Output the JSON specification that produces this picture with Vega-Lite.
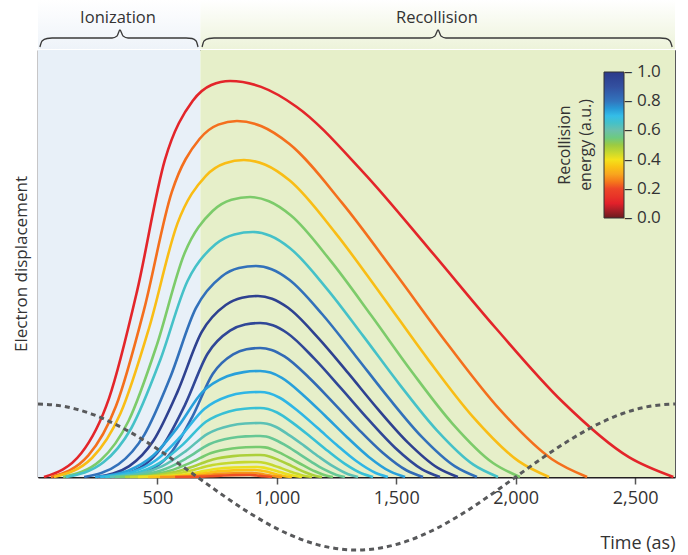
{
  "$schema": "https://vega.github.io/schema/vega-lite/v6.json",
  "width": 637,
  "height": 427,
  "autosize": {"type": "none"},
  "padding": {"left": 38, "top": 50, "right": 13, "bottom": 78},
  "background": "white",
  "config": {
    "font": "Open Sans",
    "view": {"stroke": "#58595b", "strokeWidth": 1},
    "axisX": {"titleAnchor": "end", "titleFontSize": 18, "titleFontWeight": "normal", "titleColor": "#333", "titlePadding": 27, "labelFontSize": 18, "labelColor": "#333", "labelPadding": 5, "tickSize": 7, "tickColor": "#555", "tickWidth": 1.5, "domainColor": "#231f20", "domainWidth": 2, "grid": false, "zindex": 1},
    "axisY": {"labels": false, "ticks": false, "grid": false, "domainColor": "#231f20", "domainWidth": 1.5, "titleFontSize": 17, "titleFontWeight": "normal", "titleColor": "#333", "titlePadding": 8, "zindex": 1}
  },
  "datasets": {
    "regions": [
      {"phase": "Ionization", "start": 0, "end": 680, "mid": 335},
      {"phase": "Recollision", "start": 680, "end": 2667, "mid": 1670}
    ],
    "energies": [
      {"curve": 1, "energy": 0.11}, {"curve": 2, "energy": 0.24}, {"curve": 3, "energy": 0.34},
      {"curve": 4, "energy": 0.53}, {"curve": 5, "energy": 0.65}, {"curve": 6, "energy": 0.81},
      {"curve": 7, "energy": 0.97}, {"curve": 8, "energy": 0.94}, {"curve": 9, "energy": 0.83},
      {"curve": 10, "energy": 0.74}, {"curve": 11, "energy": 0.71}, {"curve": 12, "energy": 0.67},
      {"curve": 13, "energy": 0.62}, {"curve": 14, "energy": 0.57}, {"curve": 15, "energy": 0.535},
      {"curve": 16, "energy": 0.48}, {"curve": 17, "energy": 0.45}, {"curve": 18, "energy": 0.41},
      {"curve": 19, "energy": 0.35}, {"curve": 20, "energy": 0.28}, {"curve": 21, "energy": 0.21}
    ],
    "curves": [
      {"curve":1,"t":25,"y":0},{"curve":1,"t":181,"y":23.8},{"curve":1,"t":298,"y":79.2},{"curve":1,"t":415,"y":186.1},{"curve":1,"t":531,"y":316.8},{"curve":1,"t":648,"y":376.2},{"curve":1,"t":726,"y":392},{"curve":1,"t":804,"y":396},{"curve":1,"t":934,"y":390.1},{"curve":1,"t":1082,"y":370.3},{"curve":1,"t":1361,"y":304.9},{"curve":1,"t":1639,"y":227.7},{"curve":1,"t":1918,"y":148.5},{"curve":1,"t":2196,"y":75.2},{"curve":1,"t":2474,"y":19.8},{"curve":1,"t":2660,"y":0},
      {"curve":2,"t":54,"y":0},{"curve":2,"t":210,"y":21.4},{"curve":2,"t":327,"y":71.2},{"curve":2,"t":444,"y":167.3},{"curve":2,"t":560,"y":284.8},{"curve":2,"t":677,"y":338.2},{"curve":2,"t":755,"y":352.4},{"curve":2,"t":833,"y":356},{"curve":2,"t":936,"y":350.7},{"curve":2,"t":1053,"y":332.9},{"curve":2,"t":1273,"y":274.1},{"curve":2,"t":1493,"y":204.7},{"curve":2,"t":1713,"y":133.5},{"curve":2,"t":1933,"y":67.6},{"curve":2,"t":2152,"y":17.8},{"curve":2,"t":2299,"y":0},
      {"curve":3,"t":67,"y":0},{"curve":3,"t":226,"y":19},{"curve":3,"t":345,"y":63.4},{"curve":3,"t":465,"y":149},{"curve":3,"t":584,"y":253.6},{"curve":3,"t":703,"y":301.2},{"curve":3,"t":783,"y":313.8},{"curve":3,"t":862,"y":317},{"curve":3,"t":952,"y":312.2},{"curve":3,"t":1054,"y":296.4},{"curve":3,"t":1245,"y":244.1},{"curve":3,"t":1437,"y":182.3},{"curve":3,"t":1629,"y":118.9},{"curve":3,"t":1821,"y":60.2},{"curve":3,"t":2012,"y":15.9},{"curve":3,"t":2140,"y":0},
      {"curve":4,"t":105,"y":0},{"curve":4,"t":262,"y":16.8},{"curve":4,"t":379,"y":56},{"curve":4,"t":497,"y":131.6},{"curve":4,"t":614,"y":224},{"curve":4,"t":731,"y":266},{"curve":4,"t":810,"y":277.2},{"curve":4,"t":888,"y":280},{"curve":4,"t":967,"y":275.8},{"curve":4,"t":1058,"y":261.8},{"curve":4,"t":1227,"y":215.6},{"curve":4,"t":1397,"y":161},{"curve":4,"t":1566,"y":105},{"curve":4,"t":1736,"y":53.2},{"curve":4,"t":1905,"y":14},{"curve":4,"t":2018,"y":0},
      {"curve":5,"t":117,"y":0},{"curve":5,"t":274,"y":14.7},{"curve":5,"t":391,"y":49},{"curve":5,"t":509,"y":115.2},{"curve":5,"t":626,"y":196},{"curve":5,"t":743,"y":232.8},{"curve":5,"t":822,"y":242.6},{"curve":5,"t":900,"y":245},{"curve":5,"t":972,"y":241.3},{"curve":5,"t":1054,"y":229.1},{"curve":5,"t":1208,"y":188.7},{"curve":5,"t":1362,"y":140.9},{"curve":5,"t":1516,"y":91.9},{"curve":5,"t":1670,"y":46.6},{"curve":5,"t":1823,"y":12.3},{"curve":5,"t":1926,"y":0},
      {"curve":6,"t":193,"y":0},{"curve":6,"t":337,"y":12.7},{"curve":6,"t":445,"y":42.2},{"curve":6,"t":553,"y":99.2},{"curve":6,"t":661,"y":168.8},{"curve":6,"t":769,"y":200.5},{"curve":6,"t":841,"y":208.9},{"curve":6,"t":913,"y":211},{"curve":6,"t":978,"y":207.8},{"curve":6,"t":1052,"y":197.3},{"curve":6,"t":1191,"y":162.5},{"curve":6,"t":1329,"y":121.3},{"curve":6,"t":1468,"y":79.1},{"curve":6,"t":1607,"y":40.1},{"curve":6,"t":1746,"y":10.6},{"curve":6,"t":1838,"y":0},
      {"curve":7,"t":247,"y":0},{"curve":7,"t":382,"y":10.9},{"curve":7,"t":483,"y":36.2},{"curve":7,"t":584,"y":85.1},{"curve":7,"t":685,"y":144.8},{"curve":7,"t":786,"y":172},{"curve":7,"t":854,"y":179.2},{"curve":7,"t":921,"y":181},{"curve":7,"t":980,"y":178.3},{"curve":7,"t":1047,"y":169.2},{"curve":7,"t":1172,"y":139.4},{"curve":7,"t":1298,"y":104.1},{"curve":7,"t":1423,"y":67.9},{"curve":7,"t":1549,"y":34.4},{"curve":7,"t":1674,"y":9.1},{"curve":7,"t":1758,"y":0},
      {"curve":8,"t":301,"y":0},{"curve":8,"t":427,"y":9.2},{"curve":8,"t":521,"y":30.8},{"curve":8,"t":616,"y":72.4},{"curve":8,"t":710,"y":123.2},{"curve":8,"t":804,"y":146.3},{"curve":8,"t":867,"y":152.5},{"curve":8,"t":930,"y":154},{"curve":8,"t":983,"y":151.7},{"curve":8,"t":1043,"y":144},{"curve":8,"t":1156,"y":118.6},{"curve":8,"t":1269,"y":88.6},{"curve":8,"t":1382,"y":57.8},{"curve":8,"t":1495,"y":29.3},{"curve":8,"t":1608,"y":7.7},{"curve":8,"t":1683,"y":0},
      {"curve":9,"t":364,"y":0},{"curve":9,"t":477,"y":7.7},{"curve":9,"t":562,"y":25.8},{"curve":9,"t":647,"y":60.6},{"curve":9,"t":732,"y":103.2},{"curve":9,"t":817,"y":122.6},{"curve":9,"t":873,"y":127.7},{"curve":9,"t":930,"y":129},{"curve":9,"t":978,"y":127.1},{"curve":9,"t":1032,"y":120.6},{"curve":9,"t":1135,"y":99.3},{"curve":9,"t":1237,"y":74.2},{"curve":9,"t":1339,"y":48.4},{"curve":9,"t":1442,"y":24.5},{"curve":9,"t":1544,"y":6.5},{"curve":9,"t":1612,"y":0},
      {"curve":10,"t":239,"y":0},{"curve":10,"t":377,"y":6.4},{"curve":10,"t":481,"y":21.2},{"curve":10,"t":585,"y":49.8},{"curve":10,"t":688,"y":84.8},{"curve":10,"t":792,"y":100.7},{"curve":10,"t":861,"y":104.9},{"curve":10,"t":930,"y":106},{"curve":10,"t":973,"y":104.4},{"curve":10,"t":1021,"y":99.1},{"curve":10,"t":1112,"y":81.6},{"curve":10,"t":1203,"y":61},{"curve":10,"t":1294,"y":39.8},{"curve":10,"t":1385,"y":20.1},{"curve":10,"t":1476,"y":5.3},{"curve":10,"t":1537,"y":0},
      {"curve":11,"t":260,"y":0},{"curve":11,"t":394,"y":5.1},{"curve":11,"t":495,"y":17},{"curve":11,"t":595,"y":40},{"curve":11,"t":696,"y":68},{"curve":11,"t":796,"y":80.8},{"curve":11,"t":863,"y":84.2},{"curve":11,"t":930,"y":85},{"curve":11,"t":968,"y":83.7},{"curve":11,"t":1010,"y":79.5},{"curve":11,"t":1091,"y":65.5},{"curve":11,"t":1171,"y":48.9},{"curve":11,"t":1251,"y":31.9},{"curve":11,"t":1331,"y":16.2},{"curve":11,"t":1412,"y":4.3},{"curve":11,"t":1465,"y":0},
      {"curve":12,"t":281,"y":0},{"curve":12,"t":411,"y":4.1},{"curve":12,"t":508,"y":13.8},{"curve":12,"t":606,"y":32.4},{"curve":12,"t":703,"y":55.2},{"curve":12,"t":800,"y":65.6},{"curve":12,"t":865,"y":68.3},{"curve":12,"t":930,"y":69},{"curve":12,"t":963,"y":68},{"curve":12,"t":1001,"y":64.5},{"curve":12,"t":1072,"y":53.1},{"curve":12,"t":1143,"y":39.7},{"curve":12,"t":1214,"y":25.9},{"curve":12,"t":1285,"y":13.1},{"curve":12,"t":1356,"y":3.5},{"curve":12,"t":1403,"y":0},
      {"curve":13,"t":301,"y":0},{"curve":13,"t":427,"y":3.2},{"curve":13,"t":521,"y":10.8},{"curve":13,"t":616,"y":25.4},{"curve":13,"t":710,"y":43.2},{"curve":13,"t":804,"y":51.3},{"curve":13,"t":867,"y":53.5},{"curve":13,"t":930,"y":54},{"curve":13,"t":959,"y":53.2},{"curve":13,"t":992,"y":50.5},{"curve":13,"t":1053,"y":41.6},{"curve":13,"t":1115,"y":31.1},{"curve":13,"t":1176,"y":20.3},{"curve":13,"t":1238,"y":10.3},{"curve":13,"t":1299,"y":2.7},{"curve":13,"t":1340,"y":0},
      {"curve":14,"t":322,"y":0},{"curve":14,"t":444,"y":2.5},{"curve":14,"t":535,"y":8.2},{"curve":14,"t":626,"y":19.3},{"curve":14,"t":717,"y":32.8},{"curve":14,"t":808,"y":39},{"curve":14,"t":869,"y":40.6},{"curve":14,"t":930,"y":41},{"curve":14,"t":955,"y":40.4},{"curve":14,"t":983,"y":38.3},{"curve":14,"t":1037,"y":31.6},{"curve":14,"t":1090,"y":23.6},{"curve":14,"t":1143,"y":15.4},{"curve":14,"t":1196,"y":7.8},{"curve":14,"t":1250,"y":2.1},{"curve":14,"t":1285,"y":0},
      {"curve":15,"t":343,"y":0},{"curve":15,"t":460,"y":1.8},{"curve":15,"t":549,"y":6},{"curve":15,"t":637,"y":14.1},{"curve":15,"t":725,"y":24},{"curve":15,"t":813,"y":28.5},{"curve":15,"t":871,"y":29.7},{"curve":15,"t":930,"y":30},{"curve":15,"t":951,"y":29.6},{"curve":15,"t":976,"y":28.1},{"curve":15,"t":1022,"y":23.1},{"curve":15,"t":1067,"y":17.3},{"curve":15,"t":1113,"y":11.3},{"curve":15,"t":1159,"y":5.7},{"curve":15,"t":1205,"y":1.5},{"curve":15,"t":1235,"y":0},
      {"curve":16,"t":364,"y":0},{"curve":16,"t":477,"y":1.3},{"curve":16,"t":562,"y":4.4},{"curve":16,"t":647,"y":10.3},{"curve":16,"t":732,"y":17.6},{"curve":16,"t":817,"y":20.9},{"curve":16,"t":873,"y":21.8},{"curve":16,"t":930,"y":22},{"curve":16,"t":948,"y":21.7},{"curve":16,"t":969,"y":20.6},{"curve":16,"t":1008,"y":16.9},{"curve":16,"t":1047,"y":12.7},{"curve":16,"t":1085,"y":8.3},{"curve":16,"t":1124,"y":4.2},{"curve":16,"t":1163,"y":1.1},{"curve":16,"t":1189,"y":0},
      {"curve":17,"t":385,"y":0},{"curve":17,"t":491,"y":0.9},{"curve":17,"t":571,"y":3},{"curve":17,"t":651,"y":7.1},{"curve":17,"t":731,"y":12},{"curve":17,"t":811,"y":14.3},{"curve":17,"t":864,"y":14.9},{"curve":17,"t":917,"y":15},{"curve":17,"t":952,"y":14},{"curve":17,"t":986,"y":11.6},{"curve":17,"t":1021,"y":8.6},{"curve":17,"t":1055,"y":5.6},{"curve":17,"t":1090,"y":2.9},{"curve":17,"t":1124,"y":0.75},{"curve":17,"t":1147,"y":0},
      {"curve":18,"t":419,"y":0},{"curve":18,"t":519,"y":0.6},{"curve":18,"t":593,"y":2},{"curve":18,"t":668,"y":4.7},{"curve":18,"t":743,"y":8},{"curve":18,"t":817,"y":9.5},{"curve":18,"t":917,"y":10},{"curve":18,"t":945,"y":9.4},{"curve":18,"t":973,"y":7.7},{"curve":18,"t":1002,"y":5.8},{"curve":18,"t":1030,"y":3.8},{"curve":18,"t":1058,"y":1.9},{"curve":18,"t":1105,"y":0},
      {"curve":19,"t":461,"y":0},{"curve":19,"t":550,"y":0.4},{"curve":19,"t":617,"y":1.4},{"curve":19,"t":684,"y":3.3},{"curve":19,"t":752,"y":5.6},{"curve":19,"t":819,"y":6.65},{"curve":19,"t":908,"y":7},{"curve":19,"t":931,"y":6.5},{"curve":19,"t":955,"y":5.4},{"curve":19,"t":978,"y":4},{"curve":19,"t":1001,"y":2.6},{"curve":19,"t":1024,"y":1.3},{"curve":19,"t":1063,"y":0},
      {"curve":20,"t":511,"y":0},{"curve":20,"t":588,"y":0.24},{"curve":20,"t":646,"y":0.8},{"curve":20,"t":704,"y":1.9},{"curve":20,"t":761,"y":3.2},{"curve":20,"t":819,"y":3.8},{"curve":20,"t":896,"y":4},{"curve":20,"t":915,"y":3.7},{"curve":20,"t":934,"y":3.1},{"curve":20,"t":953,"y":2.3},{"curve":20,"t":972,"y":1.5},{"curve":20,"t":991,"y":0.8},{"curve":20,"t":1022,"y":0},
      {"curve":21,"t":574,"y":0},{"curve":21,"t":684,"y":0.4},{"curve":21,"t":731,"y":0.9},{"curve":21,"t":778,"y":1.5},{"curve":21,"t":825,"y":1.9},{"curve":21,"t":888,"y":2},{"curve":21,"t":916,"y":1.5},{"curve":21,"t":943,"y":0.7},{"curve":21,"t":980,"y":0}
    ],
    "field": [
      {"t":0,"y":73},{"t":111,"y":70.51},{"t":222,"y":63.22},{"t":333,"y":51.62},{"t":445,"y":36.5},{"t":556,"y":18.89},{"t":667,"y":0},{"t":778,"y":-18.89},{"t":889,"y":-36.5},{"t":1000,"y":-51.62},{"t":1111,"y":-63.22},{"t":1222,"y":-70.51},{"t":1334,"y":-73},{"t":1445,"y":-70.51},{"t":1556,"y":-63.22},{"t":1667,"y":-51.62},{"t":1778,"y":-36.5},{"t":1889,"y":-18.89},{"t":2000,"y":0},{"t":2111,"y":18.89},{"t":2223,"y":36.5},{"t":2334,"y":51.62},{"t":2445,"y":63.22},{"t":2556,"y":70.51},{"t":2667,"y":73}
    ],
    "braces": [
      {"phase":"Ionization","t":8,"y":430},{"phase":"Ionization","t":17,"y":436},{"phase":"Ionization","t":38,"y":438.5},{"phase":"Ionization","t":59,"y":439},{"phase":"Ionization","t":310,"y":439},{"phase":"Ionization","t":331,"y":441},{"phase":"Ionization","t":343,"y":447},{"phase":"Ionization","t":356,"y":441},{"phase":"Ionization","t":377,"y":439},{"phase":"Ionization","t":620,"y":439},{"phase":"Ionization","t":645,"y":438.5},{"phase":"Ionization","t":662,"y":436},{"phase":"Ionization","t":670,"y":430},
      {"phase":"Recollision","t":687,"y":430},{"phase":"Recollision","t":695,"y":436},{"phase":"Recollision","t":716,"y":438.5},{"phase":"Recollision","t":737,"y":439},{"phase":"Recollision","t":1641,"y":439},{"phase":"Recollision","t":1662,"y":441},{"phase":"Recollision","t":1675,"y":447},{"phase":"Recollision","t":1687,"y":441},{"phase":"Recollision","t":1708,"y":439},{"phase":"Recollision","t":2604,"y":439},{"phase":"Recollision","t":2629,"y":438.5},{"phase":"Recollision","t":2646,"y":436},{"phase":"Recollision","t":2655,"y":430}
    ]
  },
  "layer": [
    {
      "data": {"name": "regions"},
      "mark": {"type": "rect"},
      "encoding": {
        "x": {"field": "start", "type": "quantitative", "scale": {"domain": [0, 2667], "nice": false, "zero": false}, "axis": {"values": [500, 1000, 1500, 2000, 2500], "format": ",.0f", "title": "Time (as)"}},
        "x2": {"field": "end"},
        "fill": {"field": "phase", "type": "nominal", "scale": {"domain": ["Ionization", "Recollision"], "range": ["#e8f0f8", "#e6efc9"]}, "legend": null}
      }
    },
    {
      "data": {"name": "regions"},
      "transform": [{"filter": "datum.phase === 'Ionization'"}],
      "mark": {"type": "rect", "color": {"gradient": "linear", "x1": 0, "y1": 1, "x2": 0, "y2": 0, "stops": [{"offset": 0, "color": "#eef3f9"}, {"offset": 1, "color": "#ffffff"}]}},
      "encoding": {
        "x": {"field": "start", "type": "quantitative", "scale": {"domain": [0, 2667], "nice": false, "zero": false}, "axis": {"values": [500, 1000, 1500, 2000, 2500], "format": ",.0f", "title": "Time (as)"}},
        "x2": {"field": "end"},
        "y": {"datum": 428, "type": "quantitative", "scale": {"domain": [0, 427], "nice": false, "zero": false}, "axis": {"title": "Electron displacement"}},
        "y2": {"datum": 477}
      }
    },
    {
      "data": {"name": "regions"},
      "transform": [{"filter": "datum.phase === 'Recollision'"}],
      "mark": {"type": "rect", "color": {"gradient": "linear", "x1": 0, "y1": 1, "x2": 0, "y2": 0, "stops": [{"offset": 0, "color": "#edf3da"}, {"offset": 1, "color": "#ffffff"}]}},
      "encoding": {
        "x": {"field": "start", "type": "quantitative", "scale": {"domain": [0, 2667], "nice": false, "zero": false}, "axis": {"values": [500, 1000, 1500, 2000, 2500], "format": ",.0f", "title": "Time (as)"}},
        "x2": {"field": "end"},
        "y": {"datum": 428, "type": "quantitative", "scale": {"domain": [0, 427], "nice": false, "zero": false}, "axis": {"title": "Electron displacement"}},
        "y2": {"datum": 477}
      }
    },
    {
      "data": {"name": "curves"},
      "transform": [{"lookup": "curve", "from": {"data": {"name": "energies"}, "key": "curve", "fields": ["energy"]}}],
      "mark": {"type": "line", "interpolate": "monotone", "strokeWidth": 2.6},
      "encoding": {
        "x": {"field": "t", "type": "quantitative", "scale": {"domain": [0, 2667], "nice": false, "zero": false}, "axis": {"values": [500, 1000, 1500, 2000, 2500], "format": ",.0f", "title": "Time (as)"}},
        "y": {"field": "y", "type": "quantitative", "scale": {"domain": [0, 427], "nice": false, "zero": false}, "axis": {"title": "Electron displacement"}},
        "detail": {"field": "curve", "type": "nominal"},
        "color": {
          "field": "energy", "type": "quantitative",
          "scale": {
            "domain": [0, 0.1, 0.2, 0.3, 0.4, 0.5, 0.6, 0.7, 0.8, 0.9, 1.0],
            "range": ["#6b1b1e", "#e2202a", "#ed4527", "#f8a51e", "#f4e21b", "#9ccb42", "#6cc0aa", "#34bde8", "#3275bd", "#33509f", "#2c3a8a"]
          },
          "legend": {
            "orient": "none", "legendX": 540, "legendY": 43, "direction": "vertical", "padding": -21,
            "title": ["Recollision", "energy (a.u.)"], "titleOrient": "left", "titleAngle": 270, "titleAnchor": "middle",
            "titleFontSize": 16, "titleFontWeight": "normal", "titleColor": "#333", "titleLineHeight": 21, "titlePadding": 10,
            "values": [0.001, 0.2, 0.4, 0.6, 0.8, 0.999], "format": ".1f", "labelExpr": "'– ' + datum.label",
            "gradientLength": 146, "gradientThickness": 20, "gradientStrokeColor": "#333", "gradientStrokeWidth": 1,
            "labelFontSize": 17, "labelColor": "#333", "labelOffset": 0, "labelOverlap": false
          }
        }
      }
    },
    {
      "data": {"name": "field"},
      "mark": {"type": "line", "interpolate": "monotone", "color": "#58595b", "strokeWidth": 3, "strokeDash": [5, 4]},
      "encoding": {
        "x": {"field": "t", "type": "quantitative", "scale": {"domain": [0, 2667], "nice": false, "zero": false}, "axis": {"values": [500, 1000, 1500, 2000, 2500], "format": ",.0f", "title": "Time (as)"}},
        "y": {"field": "y", "type": "quantitative", "scale": {"domain": [0, 427], "nice": false, "zero": false}, "axis": {"title": "Electron displacement"}}
      }
    },
    {
      "data": {"name": "braces"},
      "mark": {"type": "line", "interpolate": "monotone", "color": "#3a3a3a", "strokeWidth": 1.3},
      "encoding": {
        "x": {"field": "t", "type": "quantitative", "scale": {"domain": [0, 2667], "nice": false, "zero": false}, "axis": {"values": [500, 1000, 1500, 2000, 2500], "format": ",.0f", "title": "Time (as)"}},
        "y": {"field": "y", "type": "quantitative", "scale": {"domain": [0, 427], "nice": false, "zero": false}, "axis": {"title": "Electron displacement"}},
        "detail": {"field": "phase", "type": "nominal"}
      }
    },
    {
      "data": {"name": "regions"},
      "mark": {"type": "text", "fontSize": 16.5, "color": "#333", "baseline": "middle"},
      "encoding": {
        "x": {"field": "mid", "type": "quantitative", "scale": {"domain": [0, 2667], "nice": false, "zero": false}, "axis": {"values": [500, 1000, 1500, 2000, 2500], "format": ",.0f", "title": "Time (as)"}},
        "y": {"datum": 459, "type": "quantitative", "scale": {"domain": [0, 427], "nice": false, "zero": false}, "axis": {"title": "Electron displacement"}},
        "text": {"field": "phase"}
      }
    }
  ]
}
